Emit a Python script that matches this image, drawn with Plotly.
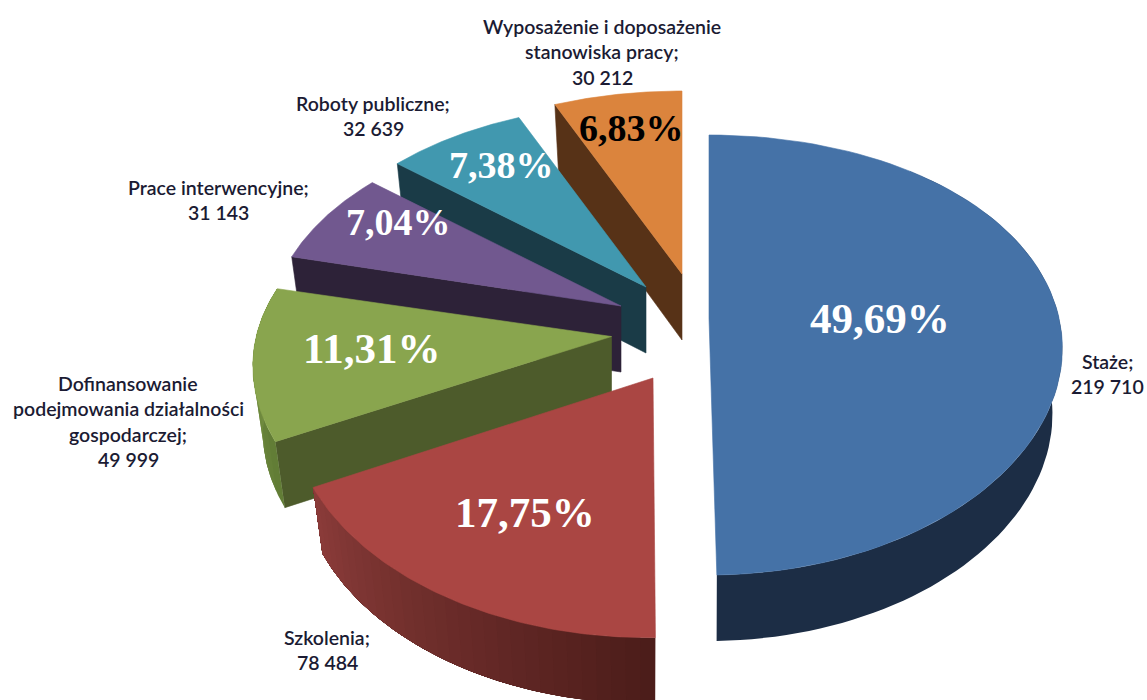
import math
import plotly.graph_objects as go

# Data
categories = ["Staże", "Szkolenia", "Dofinansowanie\npodejmowania działalności\ngospodarczej",
              "Prace interwencyjne", "Roboty publiczne", "Wyposażenie i doposażenie\nstanowiska pracy"]
values = [219710, 78484, 49999, 31143, 32639, 30212]

# Style / layout
top_colors = ["#4572A7", "#AA4643", "#89A54E", "#71588F", "#4198AF", "#DB843D"]
cut_colors = [None, None, "#4D5B2B", "#2D2238", "#1A3B47", "#573217"]
# centre x, centre y, x scale, y scale, tip shift in x
apex = [(709, 318, 1.0, 1.0, 0), (647.5, 378, 1.01, 1.01, 5.5), (611.5, 336.5, 1.015, 0.97, 0),
        (621, 306, 1.0, 1.0, 0), (646, 287, 1.0, 1.0, 0), (682, 274, 1.0, 1.0, 0)]
pct_pos = [(880, 318, 43, "white"), (525, 512, 43, "white"), (371, 348, 43, "white"),
           (398, 222, 38, "white"), (501, 165, 38, "white"), (631, 128, 38, "black")]
label_pos = [(1107, 361), (327, 637), (128, 383), (218, 187), (373, 103), (602, 26)]
LINE_H = 25.5
DEPTH = 66
BOTTOM_X = 0.972

total = sum(values)
angles = [0]
for v in values:
    angles.append(angles[-1] + 360 * v / total)


def pt(i, deg, bottom=False):
    ax, ay, kx, ky, _ = apex[i]
    t = math.radians(deg)
    s, c = math.sin(t), -math.cos(t)
    x = (350 + 49 * c) * s * kx
    y = c * (220 + 37 * c) * ky
    if bottom:
        return ax + x * BOTTOM_X, ay + y + DEPTH
    return ax + x, ay + y


def apex_pt(i, bottom=False):
    ax, ay, _, _, dx = apex[i]
    return (ax + dx, ay + DEPTH) if bottom else (ax + dx, ay)


def arc(i, a0, a1, bottom=False, n=80):
    return [pt(i, a0 + (a1 - a0) * j / n, bottom) for j in range(n + 1)]


def poly(fig, pts, color, lw=0.6):
    xs = [p[0] for p in pts] + [pts[0][0]]
    ys = [p[1] for p in pts] + [pts[0][1]]
    fig.add_trace(go.Scatter(x=xs, y=ys, mode="lines", fill="toself", fillcolor=color,
                             line=dict(color=color, width=lw), hoverinfo="skip", showlegend=False))


def mix(c0, c1, f):
    return "rgb(%d,%d,%d)" % tuple(round(a + (b - a) * f) for a, b in zip(c0, c1))


fig = go.Figure()


def wall(i, a0, a1, c0, c1, strips):
    # painter's order: every strip runs to the far end, so no seams remain
    for j in range(strips):
        u0 = a0 + (a1 - a0) * j / strips
        pts = arc(i, u0, a1, False) + arc(i, u0, a1, True)[::-1]
        poly(fig, pts, mix(c0, c1, j / max(strips - 1, 1)), 0)


for i in [5, 4, 3, 2, 1, 0]:
    a0, a1 = angles[i], angles[i + 1]
    if cut_colors[i]:
        poly(fig, [apex_pt(i), pt(i, a0), pt(i, a0, True), apex_pt(i, True)], cut_colors[i])
    if i == 0:
        wall(i, a0 + 40, a1, (0x1C, 0x2D, 0x45), (0x1C, 0x2D, 0x45), 1)
    elif i == 1:
        wall(i, a0, a1, (0x4C, 0x1D, 0x1A), (0x8A, 0x3B, 0x39), 30)
    elif i == 2:
        wall(i, a0, a1, (0x62, 0x7D, 0x36), (0x7C, 0x97, 0x46), 10)
    poly(fig, [apex_pt(i)] + arc(i, a0, a1), top_colors[i])

annotations = []
for i, (x, y, size, col) in enumerate(pct_pos):
    txt = f"{100 * values[i] / total:.2f}%".replace(".", ",")
    annotations.append(dict(x=x, y=y, text=f"<b>{txt}</b>", showarrow=False,
                            font=dict(family="Liberation Serif", size=size, color=col)))

for i, (x, y) in enumerate(label_pos):
    lines = categories[i].split("\n")
    lines[-1] += ";"
    lines.append(f"{values[i]:,}".replace(",", " "))
    for j, line in enumerate(lines):
        annotations.append(dict(x=x, y=y + j * LINE_H, text=line, showarrow=False,
                                font=dict(family="Lato", size=19.5, color="#1B1B33", weight=600)))

fig.update_layout(
    width=1147, height=700, margin=dict(l=0, r=0, t=0, b=0),
    paper_bgcolor="white", plot_bgcolor="white", showlegend=False,
    xaxis=dict(range=[0, 1147], visible=False, fixedrange=True),
    yaxis=dict(range=[700, 0], visible=False, fixedrange=True),
    annotations=annotations,
)
fig.write_html("out.html", config={"displayModeBar": False},
               post_script="document.body.style.margin='0';document.body.style.overflow='hidden';")
